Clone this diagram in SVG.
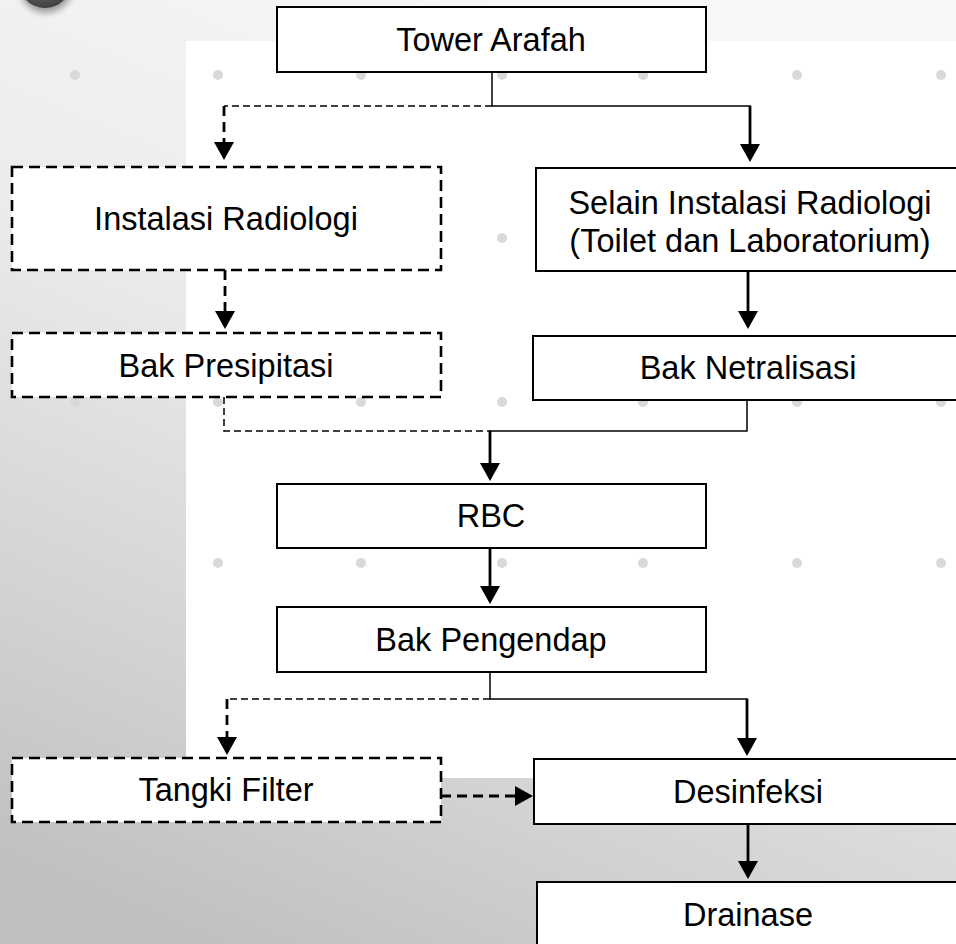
<svg xmlns="http://www.w3.org/2000/svg" width="956" height="944" viewBox="0 0 956 944">
<defs>
<linearGradient id="bg" gradientUnits="userSpaceOnUse" x1="600" y1="0" x2="200" y2="944">
<stop offset="0" stop-color="#f8f8f8"/>
<stop offset="0.4" stop-color="#ececec"/>
<stop offset="0.75" stop-color="#d3d3d3"/>
<stop offset="1" stop-color="#c0c0c0"/>
</linearGradient>
<radialGradient id="ball" cx="0.45" cy="0.35" r="0.7">
<stop offset="0" stop-color="#8a8a8a"/>
<stop offset="1" stop-color="#3a3a3a"/>
</radialGradient>
<filter id="blur" x="-50%" y="-50%" width="200%" height="200%">
<feGaussianBlur stdDeviation="3"/>
</filter>
<marker id="ah" markerUnits="userSpaceOnUse" markerWidth="20" markerHeight="20" refX="2" refY="10" orient="auto">
<path d="M0,0 L18,10 L0,20 Z" fill="#000"/>
</marker>
<style>
.box{fill:#fff;stroke:#000;stroke-width:2}
.dbox{fill:#fff;stroke:#000;stroke-width:2.6;stroke-dasharray:11 6}
.lbl{font-family:"Liberation Sans",Arial,sans-serif;font-size:32.5px;fill:#000;text-anchor:middle}
.thin{fill:none;stroke:#000;stroke-width:1.5}
.thind{fill:none;stroke:#000;stroke-width:1.5;stroke-dasharray:7 4}
.thick{fill:none;stroke:#000;stroke-width:2.8;marker-end:url(#ah)}
.thickd{fill:none;stroke:#000;stroke-width:2.8;stroke-dasharray:10 6;marker-end:url(#ah)}
.dot{fill:#d9d9d9}
</style>
</defs>
<g id="background">
<rect x="0" y="0" width="956" height="944" fill="url(#bg)"/>
<rect x="186" y="41" width="770" height="737" fill="#fff"/>
<circle cx="46" cy="-14" r="27" fill="#000" opacity="0.35" filter="url(#blur)"/>
<circle cx="45" cy="-18" r="26" fill="url(#ball)"/>
</g>
<g id="dots">
<circle class="dot" cx="75" cy="75" r="5"/><circle class="dot" cx="218" cy="75" r="5"/><circle class="dot" cx="361" cy="75" r="5"/><circle class="dot" cx="502" cy="75" r="5"/><circle class="dot" cx="643" cy="75" r="5"/><circle class="dot" cx="797" cy="75" r="5"/><circle class="dot" cx="941" cy="75" r="5"/>
<circle class="dot" cx="502" cy="238" r="5"/>
<circle class="dot" cx="75" cy="402" r="5"/><circle class="dot" cx="218" cy="402" r="5"/><circle class="dot" cx="361" cy="402" r="5"/><circle class="dot" cx="502" cy="402" r="5"/><circle class="dot" cx="643" cy="402" r="5"/><circle class="dot" cx="797" cy="402" r="5"/><circle class="dot" cx="941" cy="402" r="5"/>
<circle class="dot" cx="218" cy="563" r="5"/><circle class="dot" cx="361" cy="563" r="5"/><circle class="dot" cx="502" cy="563" r="5"/><circle class="dot" cx="643" cy="563" r="5"/><circle class="dot" cx="797" cy="563" r="5"/><circle class="dot" cx="941" cy="563" r="5"/>
</g>
<g id="connectors">
<path class="thin" d="M492,72 V106 H751"/>
<path class="thind" d="M492,106 H224"/>
<path class="thick" d="M750,106 V146"/>
<path class="thickd" d="M224,106 V144"/>
<path class="thickd" d="M225,270 V313"/>
<path class="thick" d="M748,271 V313"/>
<path class="thind" d="M224,397 V431 H490"/>
<path class="thin" d="M747,400 V431 H489"/>
<path class="thick" d="M490,431 V465"/>
<path class="thick" d="M490,548 V588"/>
<path class="thin" d="M490,672 V699 H748"/>
<path class="thind" d="M490,699 H227"/>
<path class="thick" d="M747,699 V740"/>
<path class="thickd" d="M227,699 V739"/>
<path class="thickd" d="M441,796 H517"/>
<path class="thick" d="M748,824 V863"/>
</g>
<g id="tower-arafah"><rect class="box" x="277" y="7" width="429" height="65"/><text class="lbl" x="491" y="51">Tower Arafah</text></g>
<g id="instalasi-radiologi"><rect class="dbox" x="12" y="167" width="429" height="103"/><text class="lbl" x="226" y="230">Instalasi Radiologi</text></g>
<g id="selain-instalasi"><rect class="box" x="536" y="168" width="429" height="103"/><text class="lbl" x="750" y="214">Selain Instalasi Radiologi</text><text class="lbl" x="750" y="252">(Toilet dan Laboratorium)</text></g>
<g id="bak-presipitasi"><rect class="dbox" x="12" y="333" width="429" height="64"/><text class="lbl" x="226" y="377">Bak Presipitasi</text></g>
<g id="bak-netralisasi"><rect class="box" x="533" y="336" width="429" height="64"/><text class="lbl" x="748" y="379">Bak Netralisasi</text></g>
<g id="rbc"><rect class="box" x="277" y="484" width="429" height="64"/><text class="lbl" x="491" y="527">RBC</text></g>
<g id="bak-pengendap"><rect class="box" x="277" y="607" width="429" height="65"/><text class="lbl" x="491" y="651">Bak Pengendap</text></g>
<g id="tangki-filter"><rect class="dbox" x="12" y="758" width="429" height="64"/><text class="lbl" x="226" y="801">Tangki Filter</text></g>
<g id="desinfeksi"><rect class="box" x="534" y="759" width="429" height="65"/><text class="lbl" x="748" y="803">Desinfeksi</text></g>
<g id="drainase"><rect class="box" x="537" y="882" width="429" height="70"/><text class="lbl" x="748" y="926">Drainase</text></g>
</svg>
